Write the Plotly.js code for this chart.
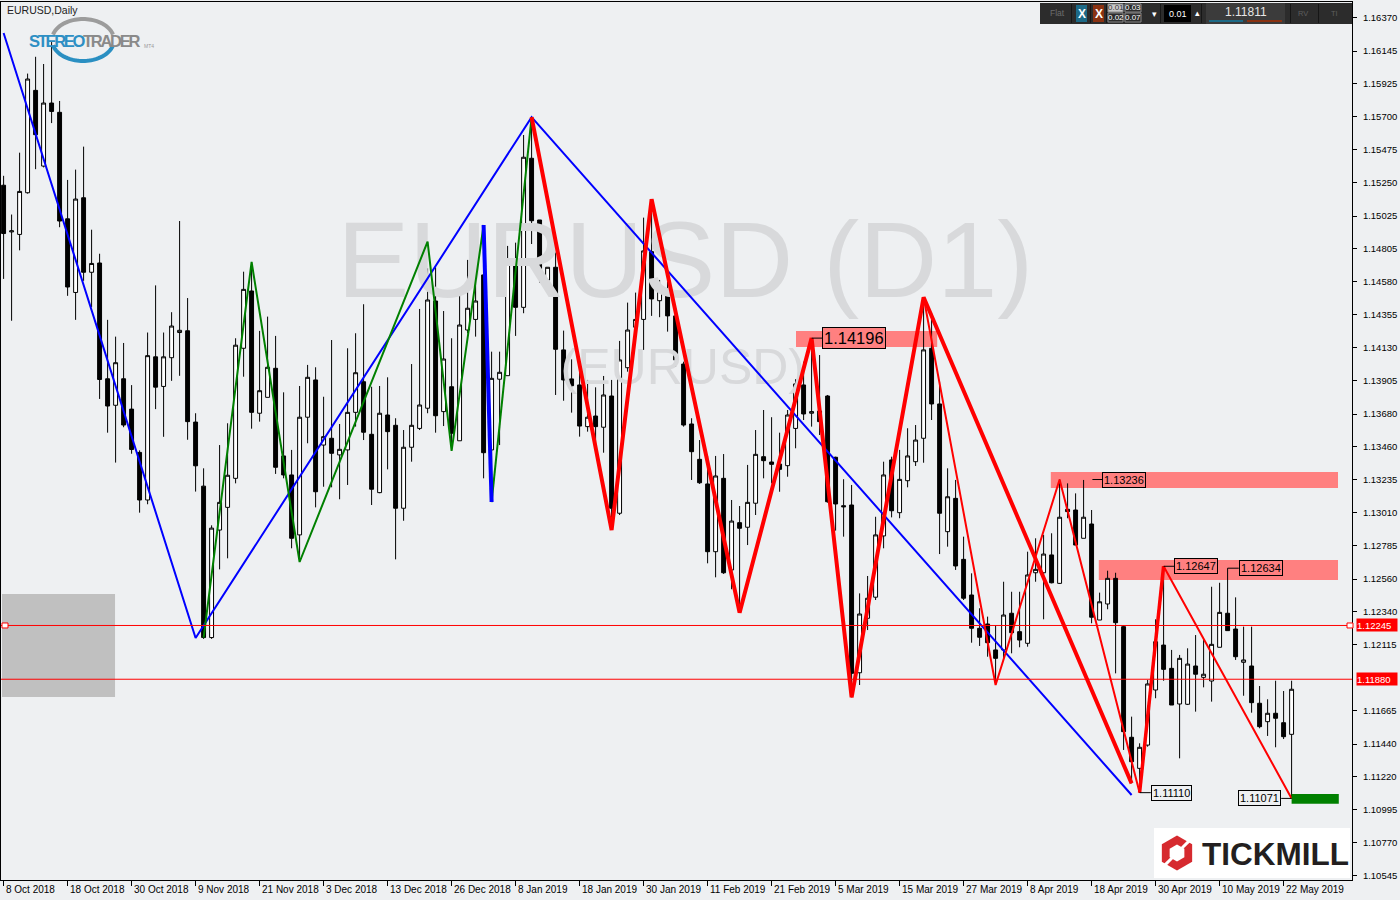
<!DOCTYPE html>
<html><head><meta charset="utf-8">
<script src="https://cdn.plot.ly/plotly-3.0.1.min.js"></script>
<style>html,body{margin:0;padding:0;background:#eef0f2;}#chart{width:1400px;height:900px;}</style>
</head><body><div id="chart"></div>
<script>
// ---------------- data ----------------
const dateLabels = ['8 Oct 2018','18 Oct 2018','30 Oct 2018','9 Nov 2018','21 Nov 2018','3 Dec 2018','13 Dec 2018','26 Dec 2018','8 Jan 2019','18 Jan 2019','30 Jan 2019','11 Feb 2019','21 Feb 2019','5 Mar 2019','15 Mar 2019','27 Mar 2019','8 Apr 2019','18 Apr 2019','30 Apr 2019','10 May 2019','22 May 2019'];
const dateTickBars = [0,8,16,24,32,40,48,56,64,72,80,88,96,104,112,120,128,136,144,152,160];
const priceTicks = [1.16370,1.16145,1.15925,1.15700,1.15475,1.15250,1.15025,1.14805,1.14580,1.14355,1.14130,1.13905,1.13680,1.13460,1.13235,1.13010,1.12785,1.12560,1.12340,1.12115,1.11665,1.11440,1.11220,1.10995,1.10770,1.10545];

const open = [1.15234,1.14917,1.14900,1.15183,1.15878,1.15364,1.15792,1.15729,1.15006,1.14506,
1.15149,1.14643,1.14706,1.13920,1.13740,1.13920,1.13714,1.13420,1.13097,1.14069,
1.13868,1.14063,1.14234,1.14246,1.13626,1.13191,1.12163,1.12893,1.13047,1.13244,
1.14127,1.14516,1.13686,1.13794,1.13991,1.13396,1.13267,1.12860,1.13659,1.13912,
1.13470,1.13516,1.13403,1.13437,1.13692,1.13900,1.13543,1.13147,1.13674,1.13604,
1.13041,1.13455,1.13583,1.13720,1.14448,1.13697,1.13866,1.13499,1.14251,1.14323,
1.14625,1.13437,1.13917,1.13941,1.14731,1.14405,1.15417,1.14998,1.14591,1.14677,
1.14116,1.13919,1.13878,1.13595,1.13667,1.13591,1.13803,1.13007,1.13995,1.14270,
1.14323,1.14783,1.14450,1.14501,1.14347,1.14020,1.13613,1.13373,1.13206,1.12746,
1.13244,1.12622,1.12943,1.12912,1.13075,1.13391,1.13355,1.13341,1.13330,1.13583,
1.13878,1.13686,1.13701,1.13803,1.13387,1.13058,1.13063,1.11924,1.12294,1.12437,
1.12853,1.13369,1.13011,1.13228,1.13357,1.13516,1.14127,1.13749,1.12882,1.13108,
1.12694,1.12452,1.12226,1.12255,1.12079,1.12079,1.12328,1.12203,1.12124,1.12603,
1.12603,1.12724,1.12531,1.13034,1.13029,1.12837,1.12934,1.12282,1.12391,1.12565,
1.12237,1.11486,1.11275,1.11433,1.11807,1.12112,1.11954,1.11712,1.11710,1.11970,
1.11893,1.11868,1.12097,1.12328,1.12221,1.11995,1.11970,1.11717,1.11592,1.11649,
1.11585,1.11506];
const high = [1.15298,1.15035,1.15455,1.15992,1.16106,1.16057,1.16206,1.15806,1.15270,1.15340,
1.15496,1.14932,1.14769,1.14320,1.14206,1.14163,1.13877,1.13434,1.14234,1.14554,
1.14234,1.14372,1.14991,1.14468,1.13686,1.13312,1.12925,1.13470,1.13618,1.14195,
1.14647,1.14713,1.14245,1.14342,1.14211,1.13828,1.13437,1.13871,1.14014,1.13998,
1.13798,1.14183,1.13613,1.14127,1.14229,1.14426,1.13866,1.13871,1.13930,1.13652,
1.13572,1.14020,1.14394,1.14670,1.14677,1.14380,1.14195,1.14534,1.14727,1.14659,
1.14964,1.14104,1.14104,1.14822,1.14844,1.15575,1.15696,1.14998,1.14677,1.14795,
1.14247,1.14052,1.13991,1.13912,1.13862,1.13939,1.13912,1.14177,1.14437,1.14505,
1.15014,1.15139,1.14591,1.14579,1.14376,1.14036,1.13652,1.13504,1.13396,1.13396,
1.13409,1.13097,1.13056,1.13335,1.13572,1.13708,1.13659,1.13554,1.13708,1.13917,
1.14036,1.14196,1.14081,1.13810,1.13391,1.13238,1.13199,1.12463,1.12581,1.12983,
1.13357,1.13391,1.13437,1.13584,1.13606,1.14473,1.14367,1.13900,1.13312,1.13233,
1.12848,1.12599,1.12362,1.12305,1.12248,1.12542,1.12474,1.12474,1.12746,1.12837,
1.12860,1.12871,1.13236,1.13210,1.13142,1.13233,1.13029,1.12468,1.12617,1.12603,
1.12248,1.11626,1.11445,1.11875,1.12287,1.12647,1.12079,1.12045,1.12090,1.12180,
1.12146,1.12508,1.12535,1.12634,1.12436,1.12237,1.12237,1.11834,1.11744,1.11870,
1.11800,1.11870];
const low = [1.14598,1.14314,1.14792,1.15177,1.15343,1.15355,1.15656,1.14949,1.14483,1.14320,
1.14585,1.14406,1.13783,1.13554,1.13351,1.13591,1.13411,1.13011,1.13068,1.13714,
1.13526,1.13906,1.13940,1.13506,1.13154,1.12154,1.12154,1.12626,1.12701,1.13210,
1.13934,1.13581,1.13629,1.13794,1.13274,1.13244,1.12769,1.12676,1.13482,1.13047,
1.13187,1.13183,1.13102,1.13199,1.13595,1.13504,1.13063,1.13143,1.13305,1.12694,
1.12956,1.13357,1.13572,1.13686,1.13554,1.13599,1.13437,1.13499,1.14229,1.14206,
1.13244,1.13085,1.13470,1.13941,1.14211,1.14365,1.14835,1.14573,1.14501,1.13810,
1.13771,1.13690,1.13527,1.13561,1.13425,1.13418,1.12907,1.12995,1.13968,1.14251,
1.14116,1.14347,1.14338,1.14240,1.14002,1.13595,1.13233,1.13206,1.12667,1.12572,
1.12595,1.12491,1.12332,1.12791,1.12995,1.13244,1.13210,1.13153,1.13255,1.13448,
1.13640,1.13595,1.13538,1.13079,1.12889,1.12848,1.11757,1.11841,1.12214,1.12418,
1.12769,1.12979,1.12973,1.13183,1.13328,1.13350,1.13640,1.12730,1.12780,1.12622,
1.12418,1.12128,1.12106,1.12033,1.11841,1.12024,1.12056,1.12097,1.12101,1.12542,
1.12287,1.12531,1.12527,1.12973,1.12791,1.12837,1.12260,1.12282,1.12355,1.11920,
1.11400,1.11173,1.11110,1.11422,1.11751,1.11870,1.11705,1.11343,1.11705,1.11660,
1.11825,1.11728,1.12097,1.12210,1.12011,1.11768,1.11653,1.11547,1.11495,1.11418,
1.11474,1.11071];
const close = [1.14906,1.14924,1.15192,1.15955,1.15577,1.15792,1.15735,1.14991,1.14543,1.15140,
1.14643,1.14703,1.13915,1.13735,1.14029,1.13606,1.13440,1.13097,1.14077,1.13863,
1.14069,1.14278,1.14249,1.13629,1.13329,1.12163,1.12906,1.13081,1.13265,1.14148,
1.14527,1.13692,1.13839,1.13998,1.13319,1.13267,1.12837,1.13659,1.13930,1.13153,
1.13527,1.13414,1.13441,1.13692,1.13961,1.13557,1.13170,1.13686,1.13561,1.13041,
1.13455,1.13604,1.13742,1.14455,1.13669,1.14054,1.13550,1.14285,1.14399,1.14448,
1.13418,1.13923,1.13964,1.14731,1.14405,1.15424,1.14993,1.14630,1.14677,1.14120,
1.13912,1.13873,1.13599,1.13659,1.13595,1.13810,1.13041,1.14048,1.14251,1.14323,
1.14788,1.14462,1.14534,1.14347,1.14048,1.13606,1.13425,1.13214,1.12746,1.13260,
1.12603,1.12954,1.12905,1.13081,1.13407,1.13364,1.13339,1.13305,1.13674,1.13885,
1.13681,1.13697,1.13629,1.13085,1.13070,1.13051,1.11920,1.12323,1.12430,1.12860,
1.13267,1.13024,1.13237,1.13396,1.13504,1.14116,1.13749,1.13007,1.13119,1.12649,
1.12430,1.12226,1.12165,1.12128,1.12022,1.12316,1.12196,1.12146,1.12588,1.12626,
1.12730,1.12535,1.12980,1.13018,1.12791,1.12980,1.12301,1.12406,1.12565,1.12264,
1.11524,1.11320,1.11418,1.11848,1.12135,1.11947,1.11705,1.12022,1.11983,1.11914,
1.11914,1.12117,1.12334,1.12210,1.12033,1.12011,1.11721,1.11558,1.11649,1.11615,
1.11490,1.11812];

// zigzag pivots (bar number, price)
const blueZZBars = [0, 24, 66, 141];
const blueZZPrices = [1.16268, 1.12160, 1.15696, 1.11094];
const greenZZBars = [25, 31, 37, 53, 56, 60];
const greenZZPrices = [1.12163, 1.14713, 1.12676, 1.14851, 1.13430, 1.14964];
const greenZZ2Bars = [61, 66];
const greenZZ2Prices = [1.13083, 1.15696];
const blueLegBars = [60, 61];
const blueLegPrices = [1.14964, 1.13083];
const redThickBars = [66, 76, 81, 92, 101, 106, 115, 141];
const redThickPrices = [1.15696, 1.12893, 1.15139, 1.12332, 1.14196, 1.11757, 1.14473, 1.11173];
const redThinBars = [115, 124, 132, 142, 145, 161];
const redThinPrices = [1.14473, 1.11841, 1.13236, 1.11110, 1.12647, 1.11071];

const levelLines = [1.12245, 1.11880];
const pivotLabels = ['1.14196','1.13236','1.12647','1.12634','1.11110','1.11071'];
const pivotPrices = [1.14196, 1.13236, 1.12647, 1.12634, 1.11110, 1.11071];
const lastPrice = '1.11811';

// ---------------- layout helpers ----------------
const PL = 1, PT = 2, PW = 1351, PH = 878;
const px = x => (x - PL) / PW;
const py = y => (PT + PH - y) / PH;
const bars = open.map((_, i) => i);

const shapes = [];
const ann = [];
const BG = '#eef0f2';
const PINK = '#ff8080';
const FONT = 'Liberation Sans, Arial';

// zones
shapes.push({type:'rect', layer:'below', xref:'x', yref:'y', x0:-0.2, x1:13.93, y0:1.11759, y1:1.12459, fillcolor:'#c0c0c0', line:{width:0}});
shapes.push({type:'rect', layer:'below', xref:'x', yref:'y', x0:99.05, x1:116.7, y0:1.14136, y1:1.14245, fillcolor:PINK, line:{width:0}});
shapes.push({type:'rect', layer:'below', xref:'x', yref:'y', x0:130.9, x1:166.8, y0:1.13178, y1:1.13287, fillcolor:PINK, line:{width:0}});
shapes.push({type:'rect', layer:'below', xref:'x', yref:'y', x0:136.9, x1:166.8, y0:1.12554, y1:1.12690, fillcolor:PINK, line:{width:0}});
shapes.push({type:'rect', layer:'above', xref:'x', yref:'y', x0:161, x1:166.9, y0:1.11035, y1:1.11101, fillcolor:'#008000', line:{width:0}});

// level lines
levelLines.forEach(v => shapes.push({type:'line', layer:'above', xref:'paper', yref:'y', x0:0, x1:1, y0:v, y1:v, line:{color:'#ff0000', width:1}}));
[px(5), px(1350)].forEach(xx => shapes.push({type:'rect', layer:'above', xref:'paper', yref:'y', xsizemode:'pixel', ysizemode:'pixel', xanchor:xx, yanchor:levelLines[0], x0:-3, x1:3, y0:-2.5, y1:2.5, fillcolor:'#ffffff', line:{color:'#ff0000', width:1}}));

// pivot label connectors and boxes
const conn = [[101,102.3],[136.1,137.3],[145,146.3],[153,154.4],[142,143.4],[159.7,161]];
conn.forEach((c, k) => shapes.push({type:'line', layer:'above', xref:'x', yref:'y', x0:c[0], x1:c[1], y0:pivotPrices[k], y1:pivotPrices[k], line:{color:'#000', width:1}}));
const boxX = [102.3, 137.3, 146.3, 154.4, 143.4, 159.7];
const boxAnchor = ['left','left','left','left','left','right'];
const boxBg = [PINK, PINK, PINK, PINK, BG, BG];
const boxSize = [16.5, 11, 11, 11, 11, 11];
pivotLabels.forEach((t, k) => ann.push({xref:'x', yref:'y', x:boxX[k], y:pivotPrices[k], text:t, showarrow:false, xanchor:boxAnchor[k], yanchor:'middle', bgcolor:boxBg[k], bordercolor:'#000', borderwidth:1, borderpad:1, font:{family:FONT, size:boxSize[k], color:'#000'}}));

// right axis level tags
levelLines.forEach(v => ann.push({xref:'paper', yref:'y', x:1, xshift:4, y:v, text:v.toFixed(5), showarrow:false, xanchor:'left', yanchor:'middle', bgcolor:'#ff0000', width:40, height:12, align:'left', borderpad:0, font:{family:FONT, size:9.5, color:'#ffffff'}}));

// date labels
dateLabels.forEach((t, k) => ann.push({xref:'x', yref:'paper', x:dateTickBars[k], y:0, yshift:-2, xshift:0, text:t, showarrow:false, xanchor:'left', yanchor:'top', font:{family:FONT, size:10, color:'#000'}}));

// header
ann.push({xref:'paper', yref:'paper', x:px(5), y:py(10), text:'EURUSD,Daily', showarrow:false, xanchor:'left', yanchor:'middle', font:{family:FONT, size:10.5, color:'#222'}});

// StereoTrader logo
function arcPath(cx, cy, rx, ry, a0, a1, n) {
  let d = '';
  for (let k = 0; k <= n; k++) {
    const a = (a0 + (a1 - a0) * k / n) * Math.PI / 180;
    d += (k ? 'L' : 'M') + px(cx + rx * Math.cos(a)).toFixed(5) + ',' + py(cy - ry * Math.sin(a)).toFixed(5);
  }
  return d;
}
shapes.push({type:'path', layer:'above', xref:'paper', yref:'paper', path:arcPath(83, 40, 31, 21, 165, 15, 40), line:{color:'#9c9c9c', width:4}});
shapes.push({type:'path', layer:'above', xref:'paper', yref:'paper', path:arcPath(83, 40, 31, 21, 195, 345, 40), line:{color:'#2a8fc2', width:4}});
ann.push({xref:'paper', yref:'paper', x:px(27), y:py(41), text:"<b><span style='color:#2d8fc4;letter-spacing:-2.3px'>STEREO</span><span style='color:#8a8a8a;letter-spacing:-2.3px'>TRADER</span></b>", showarrow:false, xanchor:'left', yanchor:'middle', font:{family:FONT, size:16.5}});
ann.push({xref:'paper', yref:'paper', x:px(142), y:py(46), text:'MT4', showarrow:false, xanchor:'left', yanchor:'middle', font:{family:FONT, size:5, color:'#9a9a9a'}});

// Toolbar
function pr(x0, x1, y0, y1, fill, lineColor) {
  shapes.push({type:'rect', layer:'above', xref:'paper', yref:'paper', x0:px(x0), x1:px(x1), y0:py(y1), y1:py(y0), fillcolor:fill, line: lineColor ? {color:lineColor, width:1} : {width:0}});
}
function pt(x, y, t, size, color, bold) {
  ann.push({xref:'paper', yref:'paper', x:px(x), y:py(y), text: bold ? '<b>' + t + '</b>' : t, showarrow:false, xanchor:'center', yanchor:'middle', font:{family:FONT, size:size, color:color}});
}
pr(1040, 1352, 3, 24, '#2c2c2c');
[1071, 1090, 1106, 1160, 1201, 1290, 1318].forEach(x => pr(x, x + 1, 4, 23, '#161616'));
pr(1076, 1087, 5, 22, '#1d6a87');
pr(1093, 1104, 5, 22, '#8a3212');
pr(1108, 1123, 4, 12, '#c9c9c9', '#888');
pr(1108, 1123, 13, 22, '#2c2c2c', '#888');
pr(1125, 1141, 4, 12, '#2c2c2c', '#888');
pr(1125, 1141, 13, 22, '#2c2c2c', '#888');
pr(1164, 1191, 5, 22, '#000000');
pr(1206, 1285, 3, 24, '#3b3b3b');
pr(1209, 1243, 20, 22, '#1d6a87');
pr(1247, 1282, 20, 22, '#8a3212');
pt(1057, 13, 'Flat', 8.5, '#6c6c6c');
pt(1081.5, 13.5, 'X', 12, '#ffffff', true);
pt(1098.5, 13.5, 'X', 12, '#ffffff', true);
pt(1115.5, 8, '0.01', 8, '#333333');
pt(1115.5, 17.5, '0.02', 8, '#ffffff');
pt(1133, 8, '0.03', 8, '#ffffff');
pt(1133, 17.5, '0.07', 8, '#ffffff');
pt(1154, 14, '▾', 9, '#ffffff');
pt(1177.5, 13.5, '0.01', 9, '#ffffff');
pt(1197, 13, '▴', 9, '#ffffff');
pt(1245.5, 12.5, lastPrice, 12, '#e6e6e6');
pt(1303, 13, 'RV', 7.5, '#5e5e5e');
pt(1334, 13, 'TI', 7.5, '#5e5e5e');

// Tickmill logo
pr(1154, 1350, 828, 878, '#ffffff');
function hexPath(cx, cy, r) {
  let d = '';
  for (let k = 0; k < 6; k++) {
    const a = (90 - 60 * k) * Math.PI / 180;
    d += (k ? 'L' : 'M') + px(cx + r * Math.cos(a)).toFixed(5) + ',' + py(cy - r * Math.sin(a)).toFixed(5);
  }
  return d + 'Z';
}
shapes.push({type:'path', layer:'above', xref:'paper', yref:'paper', path:hexPath(1177, 853, 17.5), fillcolor:'#d62a2f', line:{width:0}});
shapes.push({type:'path', layer:'above', xref:'paper', yref:'paper', path:hexPath(1177, 853, 8.5), fillcolor:'#ffffff', line:{width:0}});
[45, 225].forEach(deg => {
  const a = deg * Math.PI / 180;
  shapes.push({type:'line', layer:'above', xref:'paper', yref:'paper', x0:px(1177 + 6 * Math.cos(a)), y0:py(853 - 6 * Math.sin(a)), x1:px(1177 + 19 * Math.cos(a)), y1:py(853 - 19 * Math.sin(a)), line:{color:'#ffffff', width:3}});
});
ann.push({xref:'paper', yref:'paper', x:px(1200), y:py(854), text:'<b>TICKMILL</b>', showarrow:false, xanchor:'left', yanchor:'middle', font:{family:FONT, size:31.5, color:'#231f20'}});

// ---------------- traces ----------------
const traces = [
  {type:'scatter', mode:'text', x:[85.2], y:[1.14659], text:['EURUSD (D1)'], textposition:'middle center', textfont:{family:FONT, size:108, color:'#d8d9db'}, hoverinfo:'skip', showlegend:false},
  {type:'scatter', mode:'text', x:[84.9], y:[1.13966], text:['(EURUSD)'], textposition:'middle center', textfont:{family:FONT, size:50, color:'#d8d9db'}, hoverinfo:'skip', showlegend:false},
  {type:'candlestick', x:bars, open:open, high:high, low:low, close:close, whiskerwidth:0,
   increasing:{line:{color:'#000000', width:1}, fillcolor:'#ffffff'},
   decreasing:{line:{color:'#000000', width:1}, fillcolor:'#000000'},
   hoverinfo:'skip', showlegend:false},
  {type:'scatter', mode:'lines', x:blueZZBars, y:blueZZPrices, line:{color:'#0000ff', width:2}, hoverinfo:'skip', showlegend:false},
  {type:'scatter', mode:'lines', x:greenZZBars, y:greenZZPrices, line:{color:'#008000', width:2}, hoverinfo:'skip', showlegend:false},
  {type:'scatter', mode:'lines', x:greenZZ2Bars, y:greenZZ2Prices, line:{color:'#008000', width:2}, hoverinfo:'skip', showlegend:false},
  {type:'scatter', mode:'lines', x:blueLegBars, y:blueLegPrices, line:{color:'#0000ff', width:4}, hoverinfo:'skip', showlegend:false},
  {type:'scatter', mode:'lines', x:redThickBars, y:redThickPrices, line:{color:'#ff0000', width:4}, hoverinfo:'skip', showlegend:false},
  {type:'scatter', mode:'lines', x:redThinBars, y:redThinPrices, line:{color:'#ff0000', width:2}, hoverinfo:'skip', showlegend:false},
  {type:'scatter', mode:'lines', x:redThinBars.slice(3, 5), y:redThinPrices.slice(3, 5), line:{color:'#ff0000', width:3.5}, hoverinfo:'skip', showlegend:false}
];

const layout = {
  width:1400, height:900,
  margin:{l:PL, r:1400 - PL - PW, t:PT, b:900 - PT - PH, pad:0},
  paper_bgcolor:BG, plot_bgcolor:BG,
  showlegend:false, hovermode:false, dragmode:false,
  xaxis:{type:'linear', range:[-0.325, 168.55], showgrid:false, zeroline:false, showline:true, mirror:true, linecolor:'#000', linewidth:1,
         ticks:'outside', ticklen:5, tickcolor:'#000', tickwidth:1, tickvals:dateTickBars, showticklabels:false, rangeslider:{visible:false}, fixedrange:true},
  yaxis:{side:'right', range:[1.10517, 1.16478], showgrid:false, zeroline:false, showline:true, mirror:true, linecolor:'#000', linewidth:1,
         ticks:'outside', ticklen:4, tickcolor:'#000', tickwidth:1, tickvals:priceTicks, ticktext:priceTicks.map(v => v.toFixed(5)),
         ticklabelstandoff:4, tickfont:{family:FONT, size:9.5, color:'#000'}, fixedrange:true},
  shapes:shapes, annotations:ann
};
Plotly.newPlot('chart', traces, layout, {displayModeBar:false, staticPlot:true});
</script>
</body></html>
